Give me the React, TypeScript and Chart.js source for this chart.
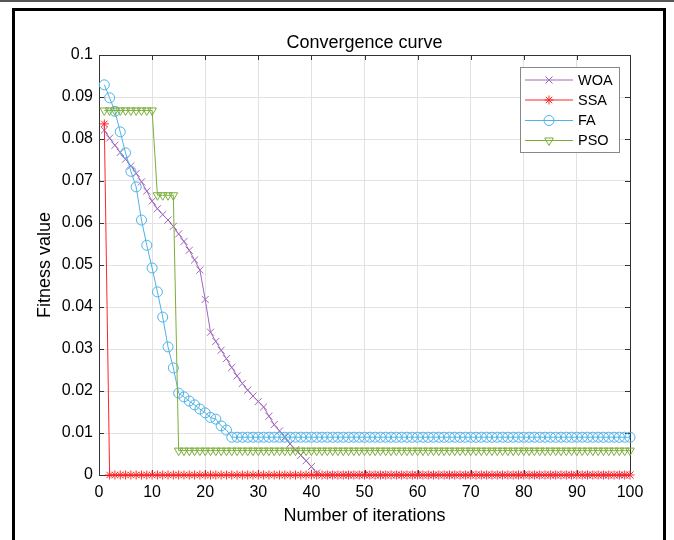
import React, { useEffect, useRef } from 'react';
import { Chart, registerables } from 'chart.js';

Chart.register(...registerables);

// ---------- data ----------
const iterations = [
  1, 2, 3, 4, 5, 6, 7, 8, 9, 10,
  11, 12, 13, 14, 15, 16, 17, 18, 19, 20,
  21, 22, 23, 24, 25, 26, 27, 28, 29, 30,
  31, 32, 33, 34, 35, 36, 37, 38, 39, 40,
  41, 42, 43, 44, 45, 46, 47, 48, 49, 50,
  51, 52, 53, 54, 55, 56, 57, 58, 59, 60,
  61, 62, 63, 64, 65, 66, 67, 68, 69, 70,
  71, 72, 73, 74, 75, 76, 77, 78, 79, 80,
  81, 82, 83, 84, 85, 86, 87, 88, 89, 90,
  91, 92, 93, 94, 95, 96, 97, 98, 99, 100,
];

const woa = [
  0.0821, 0.0802, 0.0785, 0.0768, 0.0752, 0.0736, 0.0718, 0.0698, 0.0676, 0.0652,
  0.0634, 0.0620, 0.0607, 0.0592, 0.0574, 0.0556, 0.0535, 0.0512, 0.0488, 0.0418,
  0.0340, 0.0318, 0.0297, 0.0277, 0.0256, 0.0236, 0.0218, 0.0202, 0.0188, 0.0175,
  0.0162, 0.0140, 0.0120, 0.0105, 0.0090, 0.0074, 0.0060, 0.0047, 0.0034, 0.0020,
  0.0005, 0, 0, 0, 0, 0, 0, 0, 0, 0,
  0, 0, 0, 0, 0, 0, 0, 0, 0, 0,
  0, 0, 0, 0, 0, 0, 0, 0, 0, 0,
  0, 0, 0, 0, 0, 0, 0, 0, 0, 0,
  0, 0, 0, 0, 0, 0, 0, 0, 0, 0,
  0, 0, 0, 0, 0, 0, 0, 0, 0, 0,
];

const ssa = [
  0.0836, 0, 0, 0, 0, 0, 0, 0, 0, 0,
  0, 0, 0, 0, 0, 0, 0, 0, 0, 0,
  0, 0, 0, 0, 0, 0, 0, 0, 0, 0,
  0, 0, 0, 0, 0, 0, 0, 0, 0, 0,
  0, 0, 0, 0, 0, 0, 0, 0, 0, 0,
  0, 0, 0, 0, 0, 0, 0, 0, 0, 0,
  0, 0, 0, 0, 0, 0, 0, 0, 0, 0,
  0, 0, 0, 0, 0, 0, 0, 0, 0, 0,
  0, 0, 0, 0, 0, 0, 0, 0, 0, 0,
  0, 0, 0, 0, 0, 0, 0, 0, 0, 0,
];

const fa = [
  0.0929, 0.0898, 0.0866, 0.0817, 0.0767, 0.0723, 0.0686, 0.0607, 0.0547, 0.0493,
  0.0436, 0.0376, 0.0305, 0.0255, 0.0195, 0.0186, 0.0176, 0.0167, 0.0157, 0.0148,
  0.0137, 0.0133, 0.0117, 0.0107, 0.0090, 0.0090, 0.0090, 0.0090, 0.0090, 0.0090,
  0.0090, 0.0090, 0.0090, 0.0090, 0.0090, 0.0090, 0.0090, 0.0090, 0.0090, 0.0090,
  0.0090, 0.0090, 0.0090, 0.0090, 0.0090, 0.0090, 0.0090, 0.0090, 0.0090, 0.0090,
  0.0090, 0.0090, 0.0090, 0.0090, 0.0090, 0.0090, 0.0090, 0.0090, 0.0090, 0.0090,
  0.0090, 0.0090, 0.0090, 0.0090, 0.0090, 0.0090, 0.0090, 0.0090, 0.0090, 0.0090,
  0.0090, 0.0090, 0.0090, 0.0090, 0.0090, 0.0090, 0.0090, 0.0090, 0.0090, 0.0090,
  0.0090, 0.0090, 0.0090, 0.0090, 0.0090, 0.0090, 0.0090, 0.0090, 0.0090, 0.0090,
  0.0090, 0.0090, 0.0090, 0.0090, 0.0090, 0.0090, 0.0090, 0.0090, 0.0090, 0.0090,
];

const pso = [
  0.0868, 0.0868, 0.0868, 0.0868, 0.0868, 0.0868, 0.0868, 0.0868, 0.0868, 0.0868,
  0.0666, 0.0666, 0.0666, 0.0666, 0.0058, 0.0058, 0.0058, 0.0058, 0.0058, 0.0058,
  0.0058, 0.0058, 0.0058, 0.0058, 0.0058, 0.0058, 0.0058, 0.0058, 0.0058, 0.0058,
  0.0058, 0.0058, 0.0058, 0.0058, 0.0058, 0.0058, 0.0058, 0.0058, 0.0058, 0.0058,
  0.0058, 0.0058, 0.0058, 0.0058, 0.0058, 0.0058, 0.0058, 0.0058, 0.0058, 0.0058,
  0.0058, 0.0058, 0.0058, 0.0058, 0.0058, 0.0058, 0.0058, 0.0058, 0.0058, 0.0058,
  0.0058, 0.0058, 0.0058, 0.0058, 0.0058, 0.0058, 0.0058, 0.0058, 0.0058, 0.0058,
  0.0058, 0.0058, 0.0058, 0.0058, 0.0058, 0.0058, 0.0058, 0.0058, 0.0058, 0.0058,
  0.0058, 0.0058, 0.0058, 0.0058, 0.0058, 0.0058, 0.0058, 0.0058, 0.0058, 0.0058,
  0.0058, 0.0058, 0.0058, 0.0058, 0.0058, 0.0058, 0.0058, 0.0058, 0.0058, 0.0058,
];

const seriesNames = ['WOA', 'SSA', 'FA', 'PSO'];
const xTickValues = [0, 10, 20, 30, 40, 50, 60, 70, 80, 90, 100];
const xTickLabels = ['0', '10', '20', '30', '40', '50', '60', '70', '80', '90', '100'];
const yTickValues = [0, 0.01, 0.02, 0.03, 0.04, 0.05, 0.06, 0.07, 0.08, 0.09, 0.1];
const yTickLabels = ['0', '0.01', '0.02', '0.03', '0.04', '0.05', '0.06', '0.07', '0.08', '0.09', '0.1'];

const chartTitle = 'Convergence curve';
const xTitle = 'Number of iterations';
const yTitle = 'Fitness value';

// ---------- styles ----------
const FONT = '"Liberation Sans", Arial, Helvetica, sans-serif';
const COLORS = ['#a066bd', '#ff2626', '#4db2e8', '#7aae3a'];
const MARKERS = ['crossRot', 'star', 'circle', 'triangle'];
const RADII = [5, 4.5, 5, 5];
const AXIS_COLOR = '#333333';

function drawMarker(ctx: CanvasRenderingContext2D, style: string, x: number, y: number, r: number) {
  ctx.beginPath();
  if (style === 'circle') {
    ctx.arc(x, y, r, 0, Math.PI * 2);
  } else if (style === 'triangle') {
    let a = Math.PI;
    ctx.moveTo(x + Math.sin(a) * r, y - Math.cos(a) * r);
    a += (2 * Math.PI) / 3;
    ctx.lineTo(x + Math.sin(a) * r, y - Math.cos(a) * r);
    a += (2 * Math.PI) / 3;
    ctx.lineTo(x + Math.sin(a) * r, y - Math.cos(a) * r);
    ctx.closePath();
  } else {
    const d = r * Math.SQRT1_2;
    ctx.moveTo(x - d, y - d);
    ctx.lineTo(x + d, y + d);
    ctx.moveTo(x + d, y - d);
    ctx.lineTo(x - d, y + d);
    if (style === 'star') {
      ctx.moveTo(x - r, y);
      ctx.lineTo(x + r, y);
      ctx.moveTo(x, y - r);
      ctx.lineTo(x, y + r);
    }
  }
  ctx.stroke();
}

const axesBoxPlugin = {
  id: 'axesBox',
  beforeDatasetsDraw(chart: any) {
    const { ctx, chartArea: a, scales } = chart;
    ctx.save();
    ctx.strokeStyle = AXIS_COLOR;
    ctx.lineWidth = 1;
    ctx.strokeRect(Math.round(a.left) + 0.5, Math.round(a.top) + 0.5, Math.round(a.right - a.left), Math.round(a.bottom - a.top));
    const tl = 5;
    ctx.beginPath();
    xTickValues.forEach((v) => {
      const px = Math.round(scales.x.getPixelForValue(v)) + 0.5;
      ctx.moveTo(px, a.bottom);
      ctx.lineTo(px, a.bottom - tl);
      ctx.moveTo(px, a.top);
      ctx.lineTo(px, a.top + tl);
    });
    yTickValues.forEach((v) => {
      const py = Math.round(scales.y.getPixelForValue(v)) + 0.5;
      ctx.moveTo(a.left, py);
      ctx.lineTo(a.left + tl, py);
      ctx.moveTo(a.right, py);
      ctx.lineTo(a.right - tl, py);
    });
    ctx.stroke();
    ctx.restore();
  },
};

const legendPlugin = {
  id: 'matlabLegend',
  afterDraw(chart: any) {
    const { ctx } = chart;
    const box = { x: 520.5, y: 67.5, w: 99, h: 85 };
    ctx.save();
    ctx.fillStyle = '#ffffff';
    ctx.fillRect(box.x, box.y, box.w, box.h);
    ctx.strokeStyle = '#888888';
    ctx.lineWidth = 1;
    ctx.strokeRect(box.x, box.y, box.w, box.h);
    const rowY = [80, 100, 120.5, 140.5];
    seriesNames.forEach((name, i) => {
      const y = rowY[i];
      ctx.strokeStyle = COLORS[i];
      ctx.lineWidth = 1;
      ctx.beginPath();
      ctx.moveTo(525, y);
      ctx.lineTo(573, y);
      ctx.stroke();
      drawMarker(ctx, MARKERS[i], 549, y, RADII[i]);
      ctx.fillStyle = '#000000';
      ctx.font = `14.5px ${FONT}`;
      ctx.textAlign = 'left';
      ctx.textBaseline = 'middle';
      ctx.fillText(name, 578, y + 0.5);
    });
    ctx.restore();
  },
};

export default function App() {
  const canvasRef = useRef<HTMLCanvasElement | null>(null);

  useEffect(() => {
    if (!canvasRef.current) return;
    const series = [woa, ssa, fa, pso];
    const datasets = series.map((vals, i) => ({
      label: seriesNames[i],
      data: iterations.map((it, k) => ({ x: it, y: vals[k] })),
      borderColor: COLORS[i],
      backgroundColor: 'rgba(0,0,0,0)',
      borderWidth: 1,
      pointStyle: MARKERS[i],
      pointRadius: RADII[i],
      pointRotation: MARKERS[i] === 'triangle' ? 180 : 0,
      pointBorderColor: COLORS[i],
      pointBackgroundColor: 'rgba(0,0,0,0)',
      pointBorderWidth: 1,
      tension: 0,
      clip: false as const,
      order: 3 - i,
    }));

    const chart = new Chart(canvasRef.current, {
      type: 'line',
      data: { datasets },
      options: {
        animation: false,
        responsive: false,
        events: [],
        layout: { padding: { left: 0, top: 0, right: 44, bottom: 0 } },
        plugins: {
          legend: { display: false },
          tooltip: { enabled: false },
          title: {
            display: true,
            text: chartTitle,
            fullSize: false,
            color: '#000000',
            font: { family: FONT, size: 18, weight: 'normal' },
            padding: { top: 32, bottom: 1.4 },
          },
        },
        scales: {
          x: {
            type: 'linear',
            min: 0,
            max: 100,
            afterFit: (s: any) => { s.height = 65; },
            afterBuildTicks: (s: any) => { s.ticks = xTickValues.map((v) => ({ value: v })); },
            ticks: {
              autoSkip: false,
              maxRotation: 0,
              padding: 8,
              color: '#000000',
              font: { family: FONT, size: 16 },
              callback: (_v: any, idx: number) => xTickLabels[idx],
            },
            grid: { color: '#e2e2e2', drawTicks: false },
            border: { display: false },
            title: {
              display: true,
              text: xTitle,
              color: '#000000',
              font: { family: FONT, size: 18 },
              padding: { top: 0, bottom: 13 },
            },
          },
          y: {
            type: 'linear',
            min: 0,
            max: 0.1,
            afterFit: (s: any) => { s.width = 99; },
            afterBuildTicks: (s: any) => { s.ticks = yTickValues.map((v) => ({ value: v })); },
            ticks: {
              autoSkip: false,
              padding: 6,
              color: '#000000',
              font: { family: FONT, size: 16 },
              callback: (_v: any, idx: number) => yTickLabels[idx],
            },
            grid: { color: '#e2e2e2', drawTicks: false },
            border: { display: false },
            title: {
              display: true,
              text: yTitle,
              color: '#000000',
              font: { family: FONT, size: 18 },
              padding: { top: 34, bottom: 0 },
            },
          },
        },
      },
      plugins: [axesBoxPlugin, legendPlugin],
    });
    return () => chart.destroy();
  }, []);

  return (
    <div style={{ position: 'absolute', left: 0, top: 0, width: 674, height: 540, background: '#ffffff', overflow: 'hidden' }}>
      <div style={{ position: 'absolute', left: 0, top: 0, width: 674, height: 2, background: '#555555' }} />
      <div
        style={{
          position: 'absolute',
          left: 12,
          top: 8,
          width: 654,
          height: 600,
          border: '3px solid #000000',
          boxSizing: 'border-box',
        }}
      />
      <canvas ref={canvasRef} width={674} height={540} style={{ position: 'absolute', left: 0, top: 0 }} />
    </div>
  );
}
